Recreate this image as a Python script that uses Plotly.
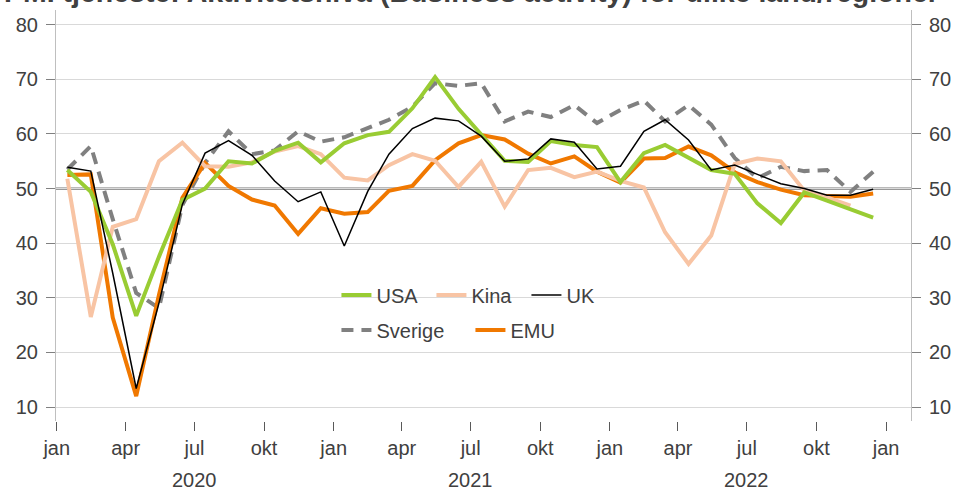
import plotly.graph_objects as go

# ---- data (monthly, Jan 2020 - Dec 2022) ----
months = [f"{y}-{m:02d}-15" for y in (2020, 2021, 2022) for m in range(1, 13)]

usa = [53.4, 49.4, 39.8, 26.7, 37.5, 47.9, 50.0, 55.0, 54.6, 56.9, 58.4, 54.8,
       58.3, 59.8, 60.4, 64.7, 70.4, 64.6, 59.9, 55.1, 54.9, 58.7, 58.0, 57.6,
       51.2, 56.5, 58.0, 55.6, 53.4, 52.7, 47.3, 43.7, 49.3, 47.8, 46.2, 44.7]
kina = [51.8, 26.5, 43.0, 44.4, 55.0, 58.4, 54.1, 54.0, 54.8, 56.8, 57.8, 56.3,
        52.0, 51.5, 54.3, 56.3, 55.1, 50.3, 54.9, 46.7, 53.4, 53.8, 52.1, 53.1,
        51.4, 50.2, 42.0, 36.2, 41.4, 54.5, 55.5, 55.0, 49.6, 48.4, 46.9, None]
uk = [53.9, 53.2, 34.5, 13.4, 29.0, 47.1, 56.5, 58.8, 56.1, 51.4, 47.6, 49.4,
      39.5, 49.5, 56.3, 61.0, 62.9, 62.4, 59.6, 55.0, 55.4, 59.1, 58.5, 53.6,
      54.1, 60.5, 62.6, 58.9, 53.4, 54.3, 52.6, 50.9, 50.0, 48.8, 48.8, 49.9]
sverige = [53.5, 57.8, 44.4, 30.9, 28.1, 47.0, 54.7, 60.5, 56.3, 57.0, 60.5, 58.6,
           59.4, 61.1, 62.6, 65.0, 69.3, 68.8, 69.3, 62.3, 64.1, 63.1, 65.3, 62.0,
           64.4, 66.1, 62.3, 65.3, 61.7, 55.6, 51.9, 54.0, 53.2, 53.4, 49.4, 53.1]
emu = [52.5, 52.6, 26.4, 12.0, 30.5, 48.3, 54.7, 50.5, 48.0, 46.9, 41.7, 46.4,
       45.4, 45.7, 49.6, 50.5, 55.2, 58.3, 59.8, 59.0, 56.4, 54.6, 55.9, 53.1,
       51.1, 55.5, 55.6, 57.7, 56.1, 53.0, 51.2, 49.8, 48.8, 48.6, 48.5, 49.1]

reference_level = 50
x_tick_vals = [f"{y}-{m:02d}-01" for y in (2020, 2021, 2022) for m in (1, 4, 7, 10)] + ["2023-01-01"]
x_tick_text = ["jan", "apr", "jul", "okt"] * 3 + ["jan"]
year_labels = ["2020", "2021", "2022"]
year_positions = ["2020-07-01", "2021-07-01", "2022-07-01"]
y_ticks = [10, 20, 30, 40, 50, 60, 70, 80]

title_text = "PMI tjeneste: Aktivitetsnivå (Business activity) for ulike land/regioner"

FONT = "Liberation Sans, Arial, sans-serif"
TXT = "#404040"

fig = go.Figure()

fig.add_trace(go.Scatter(x=months, y=sverige, name="Sverige", mode="lines",
                         line=dict(color="#808080", width=4, dash="12px,8px"),
                         legend="legend2", legendrank=1))
fig.add_trace(go.Scatter(x=months, y=emu, name="EMU", mode="lines",
                         line=dict(color="#F07800", width=4),
                         legend="legend2", legendrank=2))
fig.add_trace(go.Scatter(x=months, y=kina, name="Kina", mode="lines",
                         line=dict(color="#F8C4A4", width=4),
                         legend="legend", legendrank=2))
fig.add_trace(go.Scatter(x=months, y=usa, name="USA", mode="lines",
                         line=dict(color="#99CC33", width=4),
                         legend="legend", legendrank=1))
fig.add_trace(go.Scatter(x=months, y=uk, name="UK", mode="lines",
                         line=dict(color="#000000", width=1.5),
                         legend="legend", legendrank=3))
# invisible helper so the right-hand axis is drawn
fig.add_trace(go.Scatter(x=months, y=usa, yaxis="y2", mode="lines",
                         line=dict(width=0), opacity=0, showlegend=False,
                         hoverinfo="skip"))

fig.add_shape(type="line", xref="paper", x0=0, x1=1, yref="y",
              y0=reference_level, y1=reference_level,
              line=dict(color="#777777", width=2.2), layer="between")
# white legend box area (hides the gridline behind the legend, as in the original)
fig.add_shape(type="rect", xref="paper", x0=(335 - 56) / 862, x1=(655 - 56) / 862,
              yref="y", y0=28.3, y1=31.7, fillcolor="white", line=dict(width=0),
              layer="between")

for lab, pos in zip(year_labels, year_positions):
    fig.add_annotation(x=pos, xref="x", y=-0.143, yref="paper", text=lab,
                       showarrow=False, yanchor="middle", xanchor="center",
                       font=dict(family=FONT, size=20, color=TXT))

fig.add_annotation(x=0.486, xref="paper", y=1.0, yref="paper", text="<b>" + title_text + "</b>",
                   showarrow=False, yanchor="bottom", xanchor="center",
                   font=dict(family=FONT, size=28.5, color=TXT))

yaxis_common = dict(range=[7.45, 82.7], tickvals=y_ticks, ticks="outside", ticklen=9,
                    tickcolor="#808080", showline=True, linecolor="#BFBFBF", linewidth=1,
                    zeroline=False, tickfont=dict(family=FONT, size=20, color=TXT),
                    ticklabelstandoff=4)

fig.update_layout(
    width=961, height=491,
    margin=dict(l=56, r=43, t=10, b=70),
    paper_bgcolor="white", plot_bgcolor="white",
    font=dict(family=FONT, size=20, color=TXT),
    xaxis=dict(type="date", range=["2019-12-31", "2023-02-03"],
               tickvals=x_tick_vals, ticktext=x_tick_text,
               ticks="outside", ticklen=9, tickcolor="#595959",
               showgrid=False, showline=False, zeroline=False,
               tickfont=dict(family=FONT, size=20, color=TXT)),
    yaxis=dict(showgrid=True, gridcolor="#D9D9D9", gridwidth=1, side="left", **yaxis_common),
    yaxis2=dict(overlaying="y", side="right", showgrid=False, **yaxis_common),
    legend=dict(orientation="h", x=0.328, xanchor="left", y=0.3066, yanchor="middle",
                bgcolor="rgba(0,0,0,0)", font=dict(family=FONT, size=20, color=TXT),
                entrywidth=50, entrywidthmode="pixels", itemwidth=30, traceorder="normal"),
    legend2=dict(orientation="h", x=0.328, xanchor="left", y=0.2214, yanchor="middle",
                 bgcolor="rgba(0,0,0,0)", font=dict(family=FONT, size=20, color=TXT),
                 entrywidth=89, entrywidthmode="pixels", itemwidth=30, traceorder="normal"),
    showlegend=True,
)

fig.write_html("out.html", config={"displayModeBar": False},
               post_script="document.body.style.margin='0';document.body.style.overflow='hidden';")
